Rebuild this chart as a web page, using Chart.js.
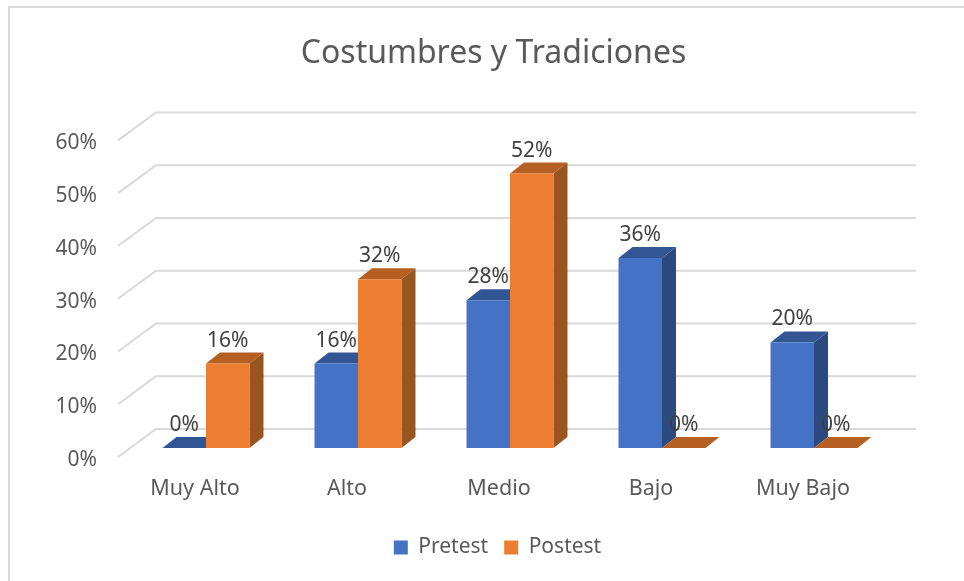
<!DOCTYPE html>
<html>
<head>
<meta charset="utf-8">
<title>Costumbres y Tradiciones</title>
<script src="https://cdn.jsdelivr.net/npm/chart.js@4"></script>
<style>
  html, body { margin: 0; padding: 0; background: #fff; }
  canvas { display: block; }
</style>
</head>
<body>
<canvas id="chart" width="964" height="581"></canvas>
<script>
const categories = ['Muy Alto', 'Alto', 'Medio', 'Bajo', 'Muy Bajo'];
const pretest = [0, 16, 28, 36, 20];
const postest = [16, 32, 52, 0, 0];
const yTicks = [0, 10, 20, 30, 40, 50, 60];

const FONT = '"Noto Sans", "Open Sans", sans-serif';

// caras laterales y superiores de cada serie
const faces = [
    { side: '#2b4a80', top: '#325694' },
    { side: '#98551f', top: '#b55f22' }
];
const depthX = 14, depthY = 11;

function poly(ctx, pts, color) {
    ctx.fillStyle = color;
    ctx.beginPath();
    pts.forEach((p, i) => i ? ctx.lineTo(p[0], p[1]) : ctx.moveTo(p[0], p[1]));
    ctx.closePath();
    ctx.fill();
}

// marco, rejilla en perspectiva y caras 3D, detras de las barras
const backdrop = {
    id: 'backdrop',
    afterLayout(chart) {
        // la leyenda va un poco a la derecha del titulo
        chart.legend.left += 4;
        chart.legend.right += 4;
    },
    beforeDatasetsDraw(chart) {
        const { ctx, chartArea, scales } = chart;
        ctx.save();
        ctx.strokeStyle = '#d9d9d9';
        ctx.lineWidth = 2;
        ctx.strokeRect(9, 7, 1000, 1000);
        yTicks.forEach(v => {
            const y = scales.y.getPixelForValue(v);
            ctx.beginPath();
            ctx.moveTo(chartArea.left - 12, y + 9);
            ctx.lineTo(chartArea.left + 26, y - 19);
            ctx.lineTo(chartArea.right + 26, y - 19);
            ctx.stroke();
        });
        [0, 1].forEach(d => {
            chart.getDatasetMeta(d).data.forEach(bar => {
                const l = bar.x - bar.width / 2, r = bar.x + bar.width / 2, t = bar.y, b = bar.base;
                poly(ctx, [[r, t], [r + depthX, t - depthY], [r + depthX, b - depthY], [r, b]], faces[d].side);
                poly(ctx, [[l, t], [r, t], [r + depthX, t - depthY], [l + depthX, t - depthY]], faces[d].top);
            });
        });
        ctx.restore();
    }
};

// etiquetas de valor encima de todo
const valueLabels = {
    id: 'valueLabels',
    afterDatasetsDraw(chart) {
        const { ctx } = chart;
        ctx.save();
        ctx.font = '21px ' + FONT;
        ctx.fillStyle = '#404040';
        ctx.textAlign = 'center';
        ctx.textBaseline = 'middle';
        chart.data.datasets.forEach((ds, d) => {
            chart.getDatasetMeta(d).data.forEach((bar, i) => {
                ctx.fillText(ds.data[i] + '%', bar.x, bar.y - 23);
            });
        });
        ctx.restore();
    }
};

new Chart(document.getElementById('chart'), {
    type: 'bar',
    data: {
        labels: categories,
        datasets: [
            { label: 'Pretest', data: pretest, backgroundColor: '#4472c4' },
            { label: 'Postest', data: postest, backgroundColor: '#ed7d31' }
        ]
    },
    options: {
        responsive: false,
        animation: false,
        categoryPercentage: 0.572,
        barPercentage: 1,
        layout: { padding: { left: 23, right: 0, top: 0, bottom: 13 } },
        scales: {
            x: {
                grid: { display: false },
                border: { display: false },
                ticks: {
                    color: '#595959',
                    font: { family: FONT, size: 21.5 },
                    labelOffset: -11,
                    padding: 20,
                    maxRotation: 0
                },
                afterFit(scale) { scale.height = 73; }
            },
            y: {
                min: 0,
                max: 60,
                afterBuildTicks(scale) { scale.ticks = yTicks.map(v => ({ value: v })); },
                grid: { display: false },
                border: { display: false },
                ticks: {
                    color: '#595959',
                    font: { family: FONT, size: 21 },
                    labelOffset: 12,
                    padding: 25,
                    callback: v => v + '%'
                },
                afterFit(scale) { scale.width = 107; }
            },
            // eje vacio: reserva el hueco derecho sin mover titulo ni leyenda
            spacer: {
                position: 'right',
                grid: { display: false },
                border: { display: false },
                ticks: { display: false },
                afterFit(scale) { scale.width = 74; }
            }
        },
        plugins: {
            title: {
                display: true,
                text: 'Costumbres y Tradiciones',
                color: '#595959',
                font: { family: FONT, size: 32, weight: 'normal' },
                padding: { top: 35, bottom: 58 }
            },
            legend: {
                position: 'bottom',
                labels: {
                    color: '#595959',
                    font: { family: FONT, size: 21 },
                    boxWidth: 14,
                    boxHeight: 14,
                    padding: 16
                }
            },
            tooltip: { enabled: false }
        }
    },
    plugins: [backdrop, valueLabels]
});
</script>
</body>
</html>
